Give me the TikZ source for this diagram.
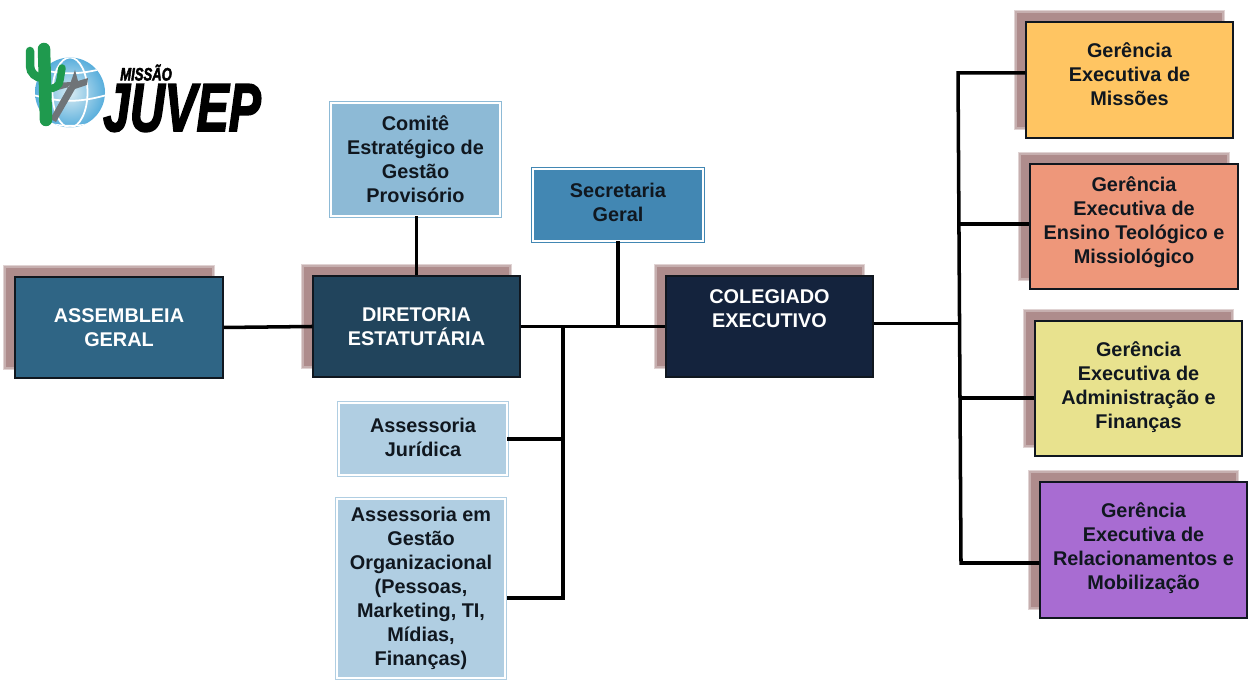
\documentclass[tikz,border=0pt]{standalone}
\usepackage{fontspec}
\setmainfont{Liberation Sans}
\newfontfamily\logofont[FakeBold=3]{Liberation Sans}
\usetikzlibrary{shadows}

\definecolor{sombra}{HTML}{AE8C8C}
\definecolor{tinta}{HTML}{10171F}
\definecolor{cacto}{HTML}{1F9A4E}
\definecolor{globo-centro}{HTML}{D8EBF3}
\definecolor{globo-borda}{HTML}{58AEDC}
\definecolor{cruz}{HTML}{6F7478}
\definecolor{cor-assembleia}{HTML}{2F6585}
\definecolor{cor-diretoria}{HTML}{21445C}
\definecolor{cor-colegiado}{HTML}{14233D}
\definecolor{cor-comite}{HTML}{8DBAD6}
\definecolor{cor-secretaria}{HTML}{4287B3}
\definecolor{cor-assessoria}{HTML}{B0CEE2}
\definecolor{cor-missoes}{HTML}{FFC562}
\definecolor{cor-ensino}{HTML}{EE977A}
\definecolor{cor-administracao}{HTML}{E8E28E}
\definecolor{cor-relacionamentos}{HTML}{A86CD2}

\tikzset{
	texto/.style={font=\fontsize{11.3}{13.6}\selectfont\bfseries, align=center, text=tinta, inner sep=0pt},
	caixa/.style={texto, draw=tinta, line width=.7pt, fill=#1,
		general shadow={fill=sombra, draw=sombra!15, line width=2.8pt, shadow xshift=-.2cm, shadow yshift=.2cm},
		general shadow={fill=sombra, draw=sombra!38, line width=1.9pt, shadow xshift=-.2cm, shadow yshift=.2cm},
		general shadow={fill=sombra, draw=sombra!70, line width=1pt, shadow xshift=-.2cm, shadow yshift=.2cm}},
	moldura/.style={texto, draw=#1, fill=#1, line width=.6pt, double=white, double distance=1.3pt},
	ligacao/.style={line width=2pt, draw=black},
}

\begin{document}
\begin{tikzpicture}
	\useasboundingbox (0, 0) rectangle (25.04, 13.86);

	\begin{scope}
		\clip (1.4, 12.01) circle (.7);
		\shade[inner color=globo-centro, outer color=globo-borda] (1.4, 12.01) circle (.7);
		\draw[white, line width=1pt] (1.4, 12.01) ellipse (.35 and .7);
		\draw[white, line width=1pt] (.7, 12.5) to [bend right=15] (2.1, 12.5);
		\draw[white, line width=1pt] (.7, 11.95) to [bend right=15] (2.1, 11.95);
		\draw[white, line width=1pt] (.7, 11.45) to [bend right=15] (2.1, 11.45);
	\end{scope}
	\fill[cruz] (1.0, 11.48) -- (1.42, 12.22) -- (1.1, 12.2) -- (1.12, 12.05) -- (1.38, 12.12) -- (1.5, 12.46) -- (1.56, 12.24) -- (1.76, 12.3) -- (1.74, 12.16) -- (1.5, 12.08) -- (1.12, 11.42) -- cycle;
	\draw[cacto, line width=.25cm, line cap=round] (.88, 12.88) to (.92, 11.46);
	\draw[cacto, line width=.17cm, line cap=round] (.6, 12.84) -- (.6, 12.54) to [out=270, in=180] (.86, 12.3);
	\draw[cacto, line width=.15cm, line cap=round] (1.24, 12.5) -- (1.2, 12.26) to [out=270, in=0] (.96, 12.08);

	\node[anchor=south west, inner sep=0pt, xscale=.73, font=\logofont\fontsize{10.2}{10}\selectfont\bfseries\itshape, text=black] at (2.4, 12.24) (logo-missao) {MISSÃO};
	\node[anchor=south west, inner sep=0pt, xscale=.71, font=\logofont\fontsize{38.5}{38}\selectfont\bfseries\itshape, text=black] at (2.06, 11.22) (logo-juvep) {JUVEP};

	\node[caixa=cor-assembleia, text=white, minimum width=4.16cm, minimum height=2.02cm] at (2.38, 7.31) (assembleia) {ASSEMBLEIA\\GERAL};
	\node[caixa=cor-diretoria, text=white, minimum width=4.14cm, minimum height=2.02cm] at (8.33, 7.33) (diretoria) {DIRETORIA\\ESTATUTÁRIA};
	\node[caixa=cor-colegiado, text=white, minimum width=4.14cm, minimum height=2.02cm, text depth=.72cm] at (15.39, 7.33) (colegiado) {COLEGIADO\\EXECUTIVO};

	\node[moldura=cor-comite, minimum width=3.37cm, minimum height=2.25cm] at (8.31, 10.67) (comite) {Comitê\\Estratégico de\\Gestão\\Provisório};
	\node[moldura=cor-secretaria, minimum width=3.39cm, minimum height=1.43cm, text depth=.12cm] at (12.36, 9.76) (secretaria) {Secretaria\\Geral};
	\node[moldura=cor-assessoria, minimum width=3.35cm, minimum height=1.43cm, text depth=.08cm] at (8.46, 5.08) (juridica) {Assessoria\\Jurídica};
	\node[moldura=cor-assessoria, minimum width=3.35cm, minimum height=3.57cm] at (8.42, 2.09) (gestao) {Assessoria em\\Gestão\\Organizacional\\(Pessoas,\\Marketing, TI,\\Mídias,\\Finanças)};

	\node[caixa=cor-missoes, minimum width=4.14cm, minimum height=2.32cm, text depth=.24cm] at (22.59, 12.26) (missoes) {Gerência\\Executiva de\\Missões};
	\node[caixa=cor-ensino, minimum width=4.16cm, minimum height=2.5cm, text depth=.26cm] at (22.68, 9.33) (ensino) {Gerência\\Executiva de\\Ensino Teológico e\\Missiológico};
	\node[caixa=cor-administracao, minimum width=4.14cm, minimum height=2.7cm, text depth=.14cm] at (22.77, 6.09) (administracao) {Gerência\\Executiva de\\Administração e\\Finanças};
	\node[caixa=cor-relacionamentos, minimum width=4.14cm, minimum height=2.72cm, text depth=.16cm] at (22.87, 2.86) (relacionamentos) {Gerência\\Executiva de\\Relacionamentos e\\Mobilização};

	\coordinate (bus-assessorias) at (11.26, 7.33);
	\coordinate (bus-gestao) at (11.26, 1.9);
	\coordinate (saida-gestao) at (10.14, 1.9);
	\coordinate (bus-gerencias) at (19.18, 7.39);
	\coordinate (bus-missoes) at (19.16, 12.4);
	\coordinate (bus-ensino) at (19.18, 9.38);
	\coordinate (bus-administracao) at (19.2, 5.9);
	\coordinate (bus-relacionamentos) at (19.22, 2.6);

	\draw[ligacao] (assembleia.east) -- (diretoria.west);
	\draw[ligacao] (diretoria.north |- comite.south) -- (diretoria.north);
	\draw[ligacao] (diretoria.east) -- (colegiado.west);
	\draw[ligacao] (secretaria.south) -- (secretaria.south |- diretoria.east);
	\draw[ligacao] (bus-assessorias) -- (bus-gestao) -- (saida-gestao);
	\draw[ligacao] (bus-assessorias |- juridica.east) -- (juridica.east);
	\draw[ligacao] (colegiado.east |- bus-gerencias) -- (bus-gerencias);
	\draw[ligacao] (missoes.west |- bus-missoes) -- (bus-missoes) -- (bus-relacionamentos) -- (relacionamentos.west |- bus-relacionamentos);
	\draw[ligacao] (bus-ensino) -- (ensino.west |- bus-ensino);
	\draw[ligacao] (bus-administracao) -- (administracao.west |- bus-administracao);
\end{tikzpicture}
\end{document}
